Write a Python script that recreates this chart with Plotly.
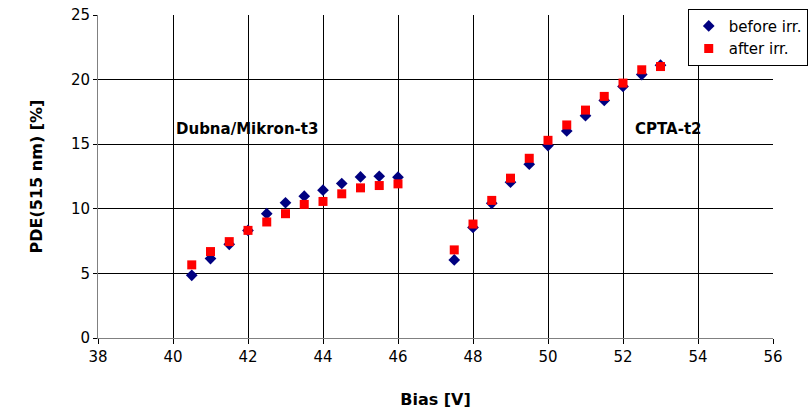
import plotly.graph_objects as go

bias_dubna = [40.5, 41, 41.5, 42, 42.5, 43, 43.5, 44, 44.5, 45, 45.5, 46]
before_dubna = [4.85, 6.15, 7.25, 8.33, 9.62, 10.47, 10.98, 11.44, 11.96, 12.47, 12.52, 12.45]
after_dubna = [5.66, 6.69, 7.46, 8.33, 8.98, 9.62, 10.34, 10.57, 11.16, 11.62, 11.80, 11.93]

bias_cpta = [47.5, 48, 48.5, 49, 49.5, 50, 50.5, 51, 51.5, 52, 52.5, 53]
before_cpta = [6.04, 8.56, 10.42, 12.06, 13.45, 14.89, 16.02, 17.21, 18.39, 19.47, 20.39, 21.12]
after_cpta = [6.82, 8.82, 10.65, 12.37, 13.91, 15.30, 16.49, 17.64, 18.70, 19.73, 20.76, 21.01]

x_ticks = [38, 40, 42, 44, 46, 48, 50, 52, 54, 56]
y_ticks = [0, 5, 10, 15, 20, 25]

before_x = bias_dubna + [None] + bias_cpta
before_y = before_dubna + [None] + before_cpta
after_x = bias_dubna + [None] + bias_cpta
after_y = after_dubna + [None] + after_cpta

FONT = "DejaVu Sans"

fig = go.Figure()
fig.add_trace(go.Scatter(x=before_x, y=before_y, mode="markers", name="before irr.",
                         marker=dict(symbol="diamond", color="#000080", size=9)))
fig.add_trace(go.Scatter(x=after_x, y=after_y, mode="markers", name="after irr.",
                         marker=dict(symbol="square", color="#FF0000", size=9)))

fig.add_annotation(x=41.96, y=16.2, text="<b>Dubna/Mikron-t3</b>", showarrow=False,
                   font=dict(family=FONT, size=15, color="black"))
fig.add_annotation(x=53.2, y=16.2, text="<b>CPTA-t2</b>", showarrow=False,
                   font=dict(family=FONT, size=15, color="black"))

fig.update_layout(
    width=811, height=414,
    margin=dict(l=98, r=38, t=15, b=76, autoexpand=False),
    paper_bgcolor="white", plot_bgcolor="white",
    font=dict(family=FONT, size=15, color="black"),
    legend=dict(xref="container", yref="container", x=0.848, y=0.979,
                xanchor="left", yanchor="top",
                bordercolor="black", borderwidth=1, bgcolor="white",
                font=dict(family=FONT, size=15), itemwidth=30, tracegroupgap=0),
    showlegend=True,
)
fig.update_xaxes(range=[38, 56], tickvals=x_ticks, ticks="outside", ticklen=5,
                 tickcolor="black", showline=True, linecolor="#808080", linewidth=1,
                 showgrid=True, gridcolor="black", gridwidth=1, zeroline=False,
                 tickfont=dict(family=FONT, size=15),
                 title=dict(text="<b>Bias [V]</b>", font=dict(family=FONT, size=16), standoff=28))
fig.update_yaxes(range=[0, 25], tickvals=y_ticks, ticks="outside", ticklen=4,
                 tickcolor="black", showline=True, linecolor="#808080", linewidth=1,
                 showgrid=True, gridcolor="black", gridwidth=1, zeroline=False,
                 tickfont=dict(family=FONT, size=15),
                 title=dict(text="<b>PDE(515 nm) [%]</b>", font=dict(family=FONT, size=16), standoff=24))

fig.write_html("out.html")
